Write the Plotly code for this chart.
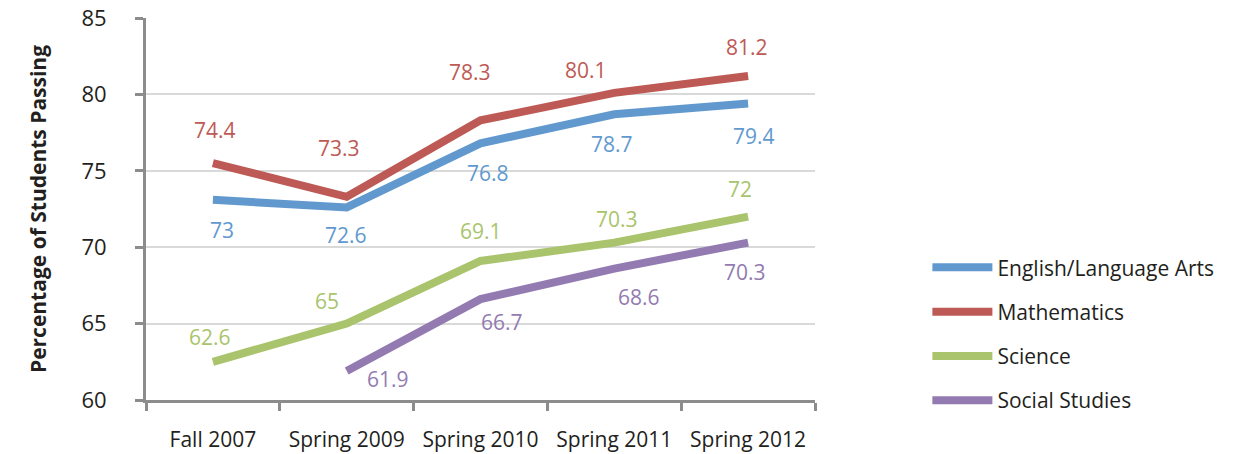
import plotly.graph_objects as go

categories = ["Fall 2007", "Spring 2009", "Spring 2010", "Spring 2011", "Spring 2012"]

ela_values = [73.1, 72.6, 76.8, 78.7, 79.4]
ela_labels = ["73", "72.6", "76.8", "78.7", "79.4"]

math_values = [75.5, 73.3, 78.3, 80.1, 81.2]
math_labels = ["74.4", "73.3", "78.3", "80.1", "81.2"]

sci_values = [62.5, 65.0, 69.1, 70.3, 72.0]
sci_labels = ["62.6", "65", "69.1", "70.3", "72"]

ss_values = [None, 61.9, 66.6, 68.6, 70.3]
ss_labels = [None, "61.9", "66.7", "68.6", "70.3"]

series_names = ["English/Language Arts", "Mathematics", "Science", "Social Studies"]
colors = ["#6199cf", "#be5a55", "#a9c46c", "#937bb1"]

# label offsets (pixels) - layout only
offsets = {
    "English/Language Arts": [(9, -30), (-1, -28), (7, -30), (-2, -30), (6, -32)],
    "Mathematics": [(2, 33), (-8, 49), (-11, 48), (-28, 23), (-1, 29)],
    "Science": [(-3, 25), (-20, 23), (0, 30), (3, 24), (-8, 28)],
    "Social Studies": [(0, 0), (41, -8), (21, -23), (25, -28), (-3, -29)],
}

all_values = [ela_values, math_values, sci_values, ss_values]
all_labels = [ela_labels, math_labels, sci_labels, ss_labels]

FONT = "Open Sans"
TXT = "#231f20"
fig = go.Figure()
annotations = []
for name, vals, labs, col in zip(series_names, all_values, all_labels, colors):
    fig.add_trace(go.Scatter(
        x=categories, y=vals, mode="lines", name=name,
        line=dict(color=col, width=8), legendgroup=name,
        connectgaps=False,
    ))
    for i, (c, v, t) in enumerate(zip(categories, vals, labs)):
        if v is None:
            continue
        dx, dy = offsets[name][i]
        annotations.append(dict(
            x=c, y=v, xref="x", yref="y", text=t, showarrow=False,
            xshift=dx, yshift=dy, font=dict(family=FONT, size=21, color=col),
        ))

fig.update_layout(
    width=1252, height=454,
    margin=dict(l=146, r=437, t=18, b=54, autoexpand=False),
    paper_bgcolor="white", plot_bgcolor="white",
    font=dict(family=FONT, size=21, color=TXT),
    annotations=annotations,
    legend=dict(
        x=1.168, y=0.40, xanchor="left", yanchor="top",
        font=dict(family=FONT, size=21, color=TXT),
        tracegroupgap=14, itemwidth=60,
        bgcolor="rgba(0,0,0,0)",
    ),
    showlegend=True,
)

fig.update_xaxes(
    type="category", tickson="boundaries", ticks="outside", ticklen=8,
    tickwidth=3, tickcolor="#8c8c8c", showline=True, linecolor="#8c8c8c",
    linewidth=3, showgrid=False, automargin=False, ticklabelstandoff=19,
    tickfont=dict(family=FONT, size=21, color=TXT),
    range=[-0.5, 4.5],
)
fig.update_yaxes(
    range=[60, 85], dtick=5, ticks="outside", ticklen=8, tickwidth=3,
    tickcolor="#8c8c8c", showline=True, linecolor="#8c8c8c", linewidth=3,
    showgrid=True, gridcolor="#d9d9d9", gridwidth=2, zeroline=False,
    automargin=False, ticklabelstandoff=24, ticklabeloverflow="allow",
    tickfont=dict(family=FONT, size=22, color=TXT),
    title=dict(text="<b>Percentage of Students Passing</b>",
               font=dict(family=FONT, size=21, color=TXT), standoff=30),
)

fig.write_html(
    "out.html",
    config={"displayModeBar": False},
    post_script="document.body.style.margin='0';document.body.style.overflow='hidden';",
)
